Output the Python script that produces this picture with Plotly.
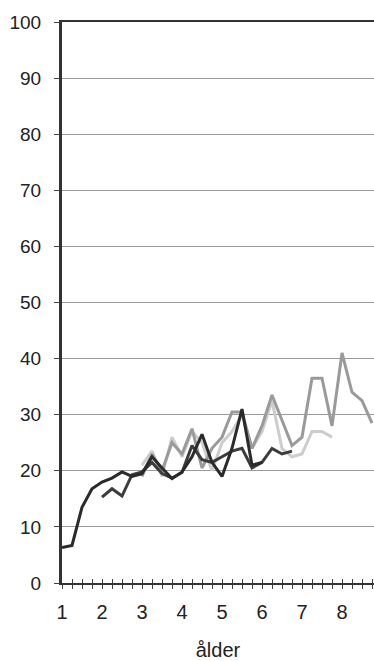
import plotly.graph_objects as go

# Age in years, sampled every quarter
age_a = [1.0, 1.25, 1.5, 1.75, 2.0, 2.25, 2.5, 2.75, 3.0, 3.25, 3.5, 3.75,
         4.0, 4.25, 4.5, 4.75, 5.0, 5.25, 5.5, 5.75, 6.0]
val_a = [6.3, 6.7, 13.5, 16.8, 18.0, 18.7, 19.8, 19.0, 19.5, 22.5, 20.5, 18.6,
         19.8, 22.5, 26.5, 21.5, 19.0, 24.0, 31.0, 21.0, 21.5]

age_b = [2.0, 2.25, 2.5, 2.75, 3.0, 3.25, 3.5, 3.75, 4.0, 4.25, 4.5, 4.75,
         5.0, 5.25, 5.5, 5.75, 6.0, 6.25, 6.5, 6.75]
val_b = [15.3, 16.8, 15.5, 19.3, 19.8, 21.5, 19.5, 18.7, 19.7, 24.5, 22.0, 21.5,
         22.5, 23.5, 24.0, 20.5, 21.5, 24.0, 23.0, 23.5]

age_c = [3.0, 3.25, 3.5, 3.75, 4.0, 4.25, 4.5, 4.75, 5.0, 5.25, 5.5, 5.75,
         6.0, 6.25, 6.5, 6.75, 7.0, 7.25, 7.5, 7.75, 8.0, 8.25, 8.5, 8.75]
val_c = [19.0, 23.0, 20.0, 25.0, 23.0, 27.5, 20.5, 24.0, 26.0, 30.5, 30.5, 24.0,
         28.0, 33.5, 29.0, 24.5, 26.0, 36.5, 36.5, 28.0, 41.0, 34.0, 32.5, 28.5]

age_d = [3.0, 3.25, 3.5, 3.75, 4.0, 4.25, 4.5, 4.75, 5.0, 5.25, 5.5, 5.75,
         6.0, 6.25, 6.5, 6.75, 7.0, 7.25, 7.5, 7.75]
val_d = [21.0, 23.5, 19.0, 26.0, 22.5, 27.0, 25.0, 20.0, 25.0, 27.0, 30.0, 24.0,
         27.0, 32.5, 24.0, 22.5, 23.0, 27.0, 27.0, 26.0]

major_ticks = [1, 2, 3, 4, 5, 6, 7, 8]
quarter_ticks = [1 + 0.25 * i for i in range(32)]
y_ticks = [0, 10, 20, 30, 40, 50, 60, 70, 80, 90, 100]

series = [
    (age_d, val_d, "#cdcdcd"),
    (age_c, val_c, "#9a9a9a"),
    (age_b, val_b, "#3c3c3c"),
    (age_a, val_a, "#2a2a2a"),
]

fig = go.Figure()
for xs, ys, col in series:
    fig.add_trace(go.Scatter(x=xs, y=ys, mode="lines",
                             line=dict(color=col, width=3),
                             showlegend=False, hoverinfo="skip"))

# invisible trace carrying the inward half of the quarter ticks
fig.add_trace(go.Scatter(x=[1], y=[0], xaxis="x2", mode="markers",
                         marker=dict(opacity=0), showlegend=False,
                         hoverinfo="skip"))

font_family = "Liberation Sans, Arial, sans-serif"
tick_text = [str(int(t)) if t in major_ticks else "" for t in quarter_ticks]

fig.update_layout(
    width=374, height=661,
    margin=dict(l=62, r=0, t=22, b=78),
    paper_bgcolor="white", plot_bgcolor="white",
    font=dict(family=font_family, color="#222222", size=19),
    xaxis=dict(
        range=[1, 8.8],
        tickmode="array", tickvals=quarter_ticks, ticktext=tick_text,
        ticks="outside", ticklen=4, tickwidth=1, tickcolor="#444444",
        showgrid=False, zeroline=False,
        showline=True, linecolor="#333333", linewidth=2, mirror=True,
        tickfont=dict(size=20), ticklabelstandoff=6,
        title=dict(text="ålder", font=dict(size=20), standoff=22),
    ),
    xaxis2=dict(
        range=[1, 8.8], overlaying="x", side="bottom",
        tickmode="array", tickvals=quarter_ticks, ticktext=[""] * len(quarter_ticks),
        ticks="inside", ticklen=4, tickwidth=1, tickcolor="#444444",
        showgrid=False, zeroline=False, showline=False,
    ),
    yaxis=dict(
        range=[0, 100],
        tickmode="array", tickvals=y_ticks,
        ticks="outside", ticklen=5, tickwidth=1, tickcolor="#444444",
        showgrid=True, gridcolor="#9a9a9a", gridwidth=1,
        zeroline=False,
        showline=True, linecolor="#333333", linewidth=3,
        tickfont=dict(size=19), ticklabelstandoff=9,
    ),
)

fig.write_html("out.html")
